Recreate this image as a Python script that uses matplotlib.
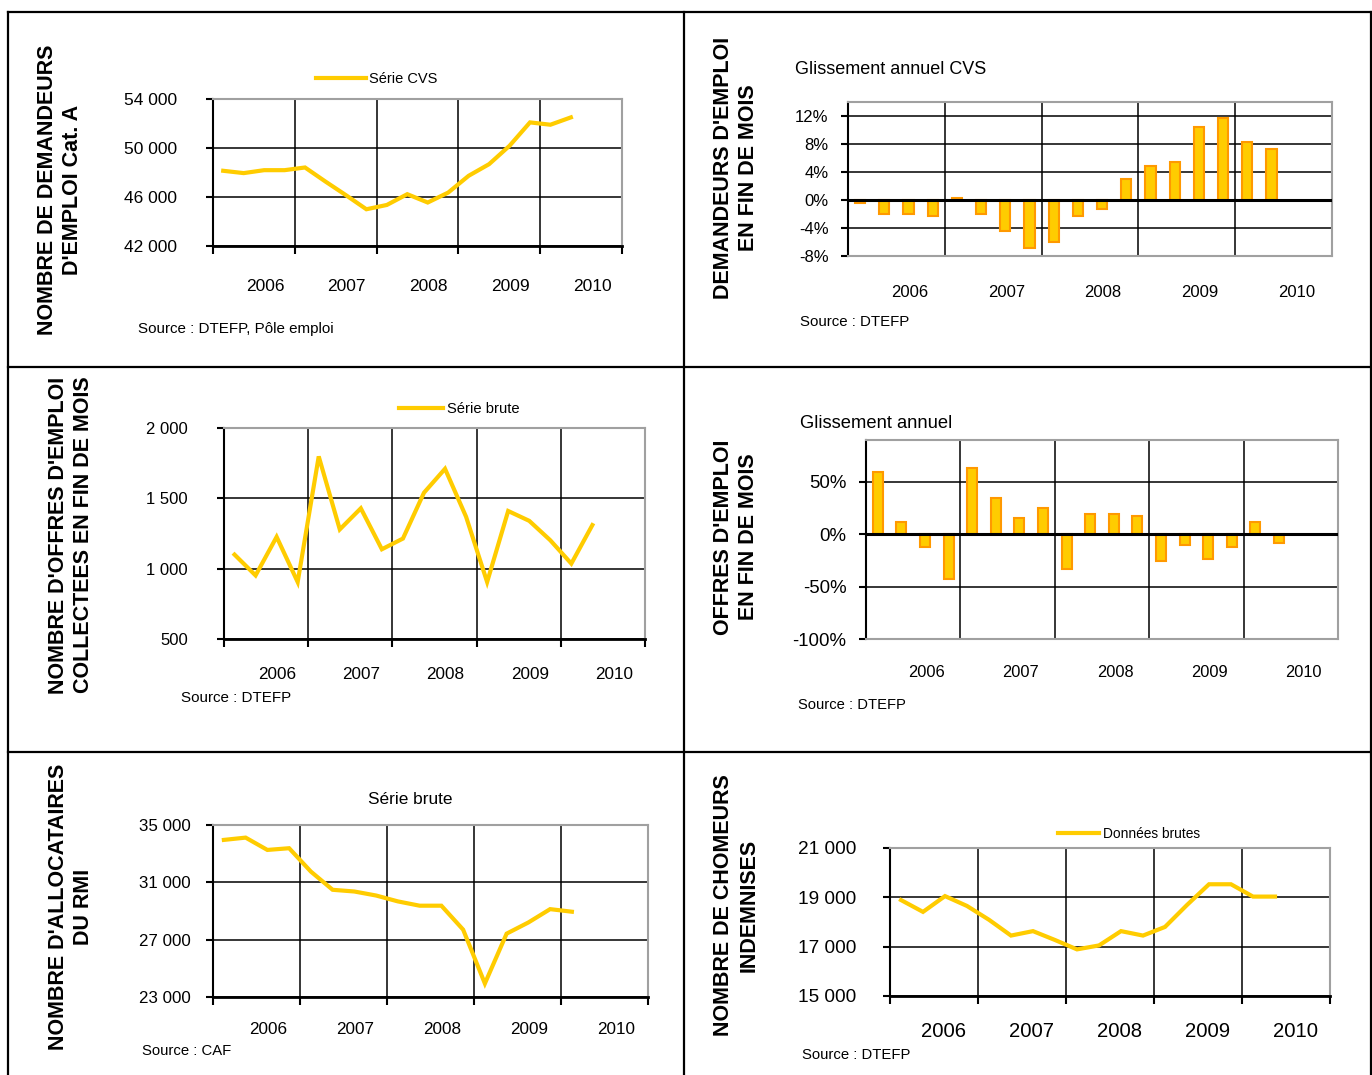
import numpy as np
import matplotlib
matplotlib.use("Agg")
import matplotlib.pyplot as plt

W, H = 1372, 1075
GOLD = "#FFCC00"
ORANGE = "#FF9900"
GREY = "#A0A0A0"
REG = ["Liberation Sans", "DejaVu Sans"]

years = ["2006", "2007", "2008", "2009", "2010"]

# quarterly values, 2006 T1 onwards
demandeurs_cvs = [48140, 47950, 48190, 48190, 48410, 47260, 46150, 45000, 45350,
                  46230, 45550, 46360, 47730, 48680, 50180, 52090, 51900, 52500]
demandeurs_glis = [-0.4, -2.0, -2.0, -2.3, 0.3, -2.0, -4.4, -6.9, -6.0,
                   -2.3, -1.3, 3.0, 4.8, 5.5, 10.5, 11.7, 8.3, 7.3]
offres_brute = [1100, 952, 1226, 905, 1798, 1279, 1429, 1138, 1214,
                1540, 1710, 1369, 905, 1410, 1340, 1202, 1036, 1310]
offres_glis = [59.6, 11.9, -11.9, -42.3, 63.5, 34.6, 15.4, 25.0, -33.0,
               19.6, 19.6, 17.3, -25.3, -9.9, -23.4, -11.9, 11.9, -8.0]
rmi_brute = [33960, 34120, 33260, 33380, 31750, 30480, 30360, 30080, 29670,
             29370, 29370, 27700, 23940, 27420, 28200, 29130, 28950]
chomeurs_brute = [18890, 18410, 19050, 18650, 18090, 17450, 17630, 17270, 16890,
                  17050, 17630, 17450, 17800, 18690, 19530, 19530, 19030, 19030]

fig = plt.figure(figsize=(W / 100, H / 100), dpi=100)


def px_axes(left, top, right, bottom):
    return fig.add_axes([left / W, 1 - bottom / H, (right - left) / W, (bottom - top) / H])


def fig_text(x, y, s, **kw):
    fig.text(x / W, 1 - y / H, s, **kw)


def thousands(v):
    return f"{v:,}".replace(",", " ")


def setup(ax, ylim, yticks, ylabels, ysize, xsize, ypad, xpad, dx, bars=False):
    nq = 4 * len(years)
    ax.set_xlim(0, nq)
    ax.set_ylim(*ylim)
    ax.set_yticks(yticks)
    ax.set_yticklabels(ylabels, family=REG, fontsize=ysize)
    # year labels sit a little right of the group centre, as in the source
    shift = dx * nq / (ax.get_position().width * W)
    ax.set_xticks(np.arange(len(years)) * 4 + 2 + shift)
    ax.set_xticklabels(years, family=REG, fontsize=xsize)
    ax.set_xticks(np.arange(len(years) + 1) * 4, minor=True)
    ax.tick_params(axis="x", which="major", length=0, pad=xpad)
    ax.tick_params(axis="x", which="minor", length=0 if bars else 6, width=1.5, direction="out")
    ax.tick_params(axis="y", length=5, width=1.5, pad=ypad, colors="black")
    ax.grid(True, which="minor", axis="x", color="black", lw=1.1)
    ax.grid(True, which="major", axis="y", color="black", lw=1.1)
    ax.set_axisbelow(True)
    for side in ("top", "right"):
        ax.spines[side].set_color(GREY)
        ax.spines[side].set_linewidth(1.5)
    ax.spines["left"].set_color("black")
    ax.spines["left"].set_linewidth(1.5)
    if bars:
        ax.spines["bottom"].set_color(GREY)
        ax.spines["bottom"].set_linewidth(1.5)
        ax.axhline(0, color="black", lw=2.2, zorder=3)
    else:
        ax.spines["bottom"].set_color("black")
        ax.spines["bottom"].set_linewidth(2)


def draw_line(ax, values):
    x = np.arange(len(values)) + 0.5
    ax.plot(x, values, color=GOLD, lw=3, solid_joinstyle="miter", zorder=4)


def draw_bars(ax, values):
    x = np.arange(len(values)) + 0.5
    ax.bar(x, values, width=0.42, color=GOLD, edgecolor=ORANGE, linewidth=1.5, zorder=2)


def legend(ax, label, x, y, size, hl=3.0):
    ax.legend([plt.Line2D([], [], color=GOLD, lw=3)], [label], loc="center",
              bbox_to_anchor=(x / W, 1 - y / H), bbox_transform=fig.transFigure,
              frameon=False, handlelength=hl, handletextpad=0.25,
              prop={"family": REG, "size": size})


def ylabel(x, y, s):
    fig_text(x, y, s, rotation=90, ha="center", va="center", fontweight="bold",
             fontsize=15.5, family=REG, linespacing=1.3, multialignment="center")


# panel frame
bg = fig.add_axes([0, 0, 1, 1], zorder=-5)
bg.set_xlim(0, W)
bg.set_ylim(H, 0)
bg.axis("off")
for seg in [((8, 1371), (12, 12)), ((8, 8), (12, 1075)), ((1371, 1371), (12, 1075)),
            ((684, 684), (12, 1075)), ((8, 1371), (367, 367)), ((8, 1371), (752, 752))]:
    bg.plot(seg[0], seg[1], color="black", lw=1.6)

# 1 - demandeurs d'emploi cat. A
ax1 = px_axes(213, 99, 622, 246)
yt = [42000, 46000, 50000, 54000]
setup(ax1, (42000, 54000), yt, [thousands(v) for v in yt], 12.5, 12.5, 21, 23.5, 11)
draw_line(ax1, demandeurs_cvs)
legend(ax1, "Série CVS", 377, 79, 10.5, hl=3.4)
ylabel(60, 190, "NOMBRE DE DEMANDEURS\nD'EMPLOI Cat. A")
fig_text(138, 329, "Source : DTEFP, Pôle emploi", family=REG, fontsize=10.9, va="center")

# 2 - glissement annuel demandeurs
ax2 = px_axes(848, 102, 1332, 256)
yt = [-8, -4, 0, 4, 8, 12]
setup(ax2, (-8, 14), yt, [f"{v}%" for v in yt], 12, 12, 9, 21, 13, bars=True)
draw_bars(ax2, demandeurs_glis)
fig_text(795, 70, "Glissement annuel CVS", family=REG, fontsize=13, va="center")
ylabel(736, 168, "DEMANDEURS D'EMPLOI\nEN FIN DE MOIS")
fig_text(800, 322, "Source : DTEFP", family=REG, fontsize=10.8, va="center")

# 3 - offres d'emploi
ax3 = px_axes(224, 428, 645, 639)
yt = [500, 1000, 1500, 2000]
setup(ax3, (500, 2000), yt, [thousands(v) for v in yt], 12, 12.3, 21, 20.5, 11)
draw_line(ax3, offres_brute)
legend(ax3, "Série brute", 459, 409, 10.6)
ylabel(71, 535, "NOMBRE D'OFFRES D'EMPLOI\nCOLLECTEES EN FIN DE MOIS")
fig_text(181, 698, "Source : DTEFP", family=REG, fontsize=10.9, va="center")

# 4 - glissement annuel offres
ax4 = px_axes(866, 440, 1338, 639)
yt = [-100, -50, 0, 50]
setup(ax4, (-100, 90), yt, [f"{v}%" for v in yt], 13.4, 11.8, 9, 19, 13, bars=True)
draw_bars(ax4, offres_glis)
fig_text(800, 423, "Glissement annuel", family=REG, fontsize=13.2, va="center")
ylabel(736, 537, "OFFRES D'EMPLOI\nEN FIN DE MOIS")
fig_text(798, 705, "Source : DTEFP", family=REG, fontsize=10.6, va="center")

# 5 - allocataires du RMI
ax5 = px_axes(213, 825, 648, 997)
yt = [23000, 27000, 31000, 35000]
setup(ax5, (23000, 35000), yt, [thousands(v) for v in yt], 12.2, 12.3, 11, 18, 12)
draw_line(ax5, rmi_brute)
fig_text(410, 799, "Série brute", family=REG, fontsize=12.4, ha="center", va="center")
ylabel(71, 907, "NOMBRE D'ALLOCATAIRES\nDU RMI")
fig_text(142, 1051, "Source : CAF", family=REG, fontsize=10.7, va="center")

# 6 - chomeurs indemnises
ax6 = px_axes(890, 848, 1330, 996)
yt = [15000, 17000, 19000, 21000]
setup(ax6, (15000, 21000), yt, [thousands(v) for v in yt], 13.7, 14.6, 19, 19, 10)
draw_line(ax6, chomeurs_brute)
legend(ax6, "Données brutes", 1129, 834, 9.9)
ylabel(736, 905, "NOMBRE DE CHOMEURS\nINDEMNISES")
fig_text(802, 1055, "Source : DTEFP", family=REG, fontsize=10.7, va="center")

fig.savefig("out.png", dpi=100)
